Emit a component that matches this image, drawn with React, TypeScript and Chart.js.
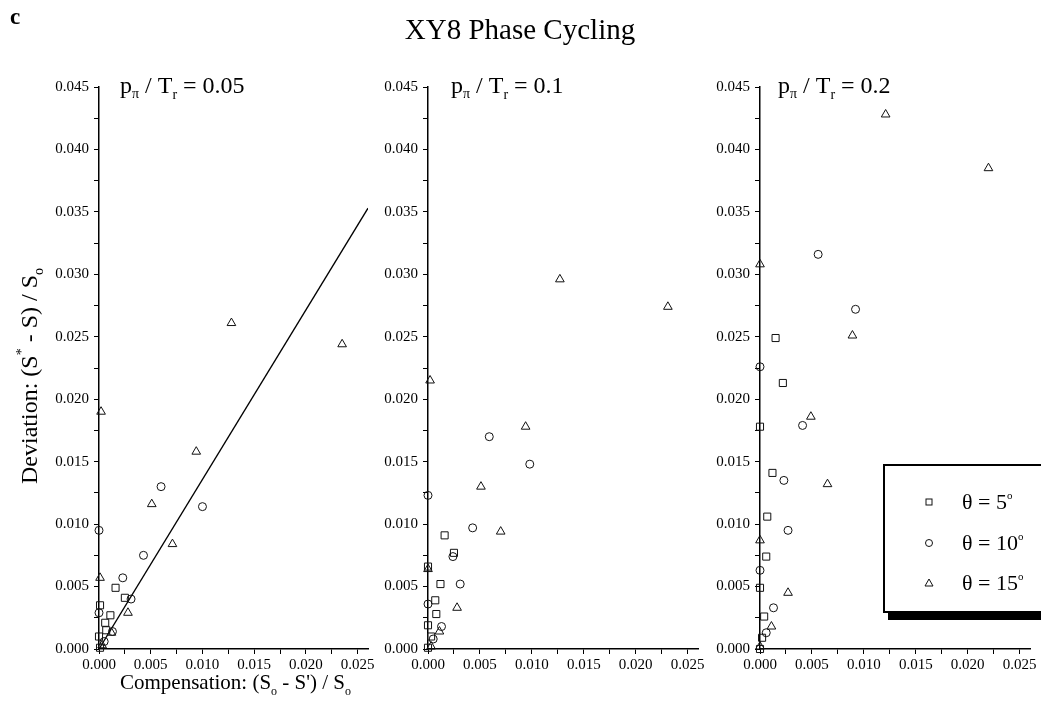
import React, { useEffect, useRef } from 'react';
import { Chart, registerables } from 'chart.js';
Chart.register(...registerables);

const FONT = '"Liberation Serif", "Times New Roman", serif';

// ---------- data (x = compensation, y = deviation) ----------
const p005Squares: number[][] = [
  [0.0016, 0.0049], [0.0025, 0.0041], [0.0001, 0.0035], [0.0011, 0.0027],
  [0.0006, 0.0021], [0.0007, 0.0015], [0.0, 0.0010], [0.0001, 0.0001],
];
const p005Circles: number[][] = [
  [0.0060, 0.0130], [0.0100, 0.0114], [0.0, 0.0095], [0.0043, 0.0075],
  [0.0023, 0.0057], [0.0031, 0.0040], [0.0, 0.0029], [0.0013, 0.0014], [0.0005, 0.0006],
];
const p005Triangles: number[][] = [
  [0.0128, 0.0261], [0.0235, 0.0244], [0.0002, 0.0190], [0.0094, 0.0158],
  [0.0051, 0.0116], [0.0071, 0.0084], [0.0001, 0.0057], [0.0028, 0.0029],
  [0.0012, 0.0013], [0.0003, 0.0003],
];

const p01Squares: number[][] = [
  [0.0016, 0.0091], [0.0025, 0.0077], [0.0, 0.0066], [0.0012, 0.0052],
  [0.0007, 0.0039], [0.0008, 0.0028], [0.0, 0.0019], [0.0003, 0.0010], [0.0, 0.0001],
];
const p01Circles: number[][] = [
  [0.0059, 0.0170], [0.0098, 0.0148], [0.0, 0.0123], [0.0043, 0.0097],
  [0.0024, 0.0074], [0.0031, 0.0052], [0.0, 0.0036], [0.0013, 0.0018], [0.0005, 0.0008],
];
const p01Triangles: number[][] = [
  [0.0127, 0.0296], [0.0231, 0.0274], [0.0002, 0.0215], [0.0094, 0.0178],
  [0.0051, 0.0130], [0.0070, 0.0094], [0.0, 0.0064], [0.0028, 0.0033],
  [0.0011, 0.0014], [0.0003, 0.0002],
];

const p02Squares: number[][] = [
  [0.0015, 0.0249], [0.0022, 0.0213], [0.0, 0.0178], [0.0012, 0.0141],
  [0.0007, 0.0106], [0.0006, 0.0074], [0.0, 0.0049], [0.0004, 0.0026],
  [0.0002, 0.0009], [0.0, 0.0],
];
const p02Circles: number[][] = [
  [0.0056, 0.0316], [0.0092, 0.0272], [0.0, 0.0226], [0.0041, 0.0179],
  [0.0023, 0.0135], [0.0027, 0.0095], [0.0, 0.0063], [0.0013, 0.0033], [0.0006, 0.0013],
];
const p02Triangles: number[][] = [
  [0.0121, 0.0428], [0.0220, 0.0385], [0.0, 0.0308], [0.0089, 0.0251],
  [0.0049, 0.0186], [0.0065, 0.0132], [0.0, 0.0087], [0.0027, 0.0045],
  [0.0011, 0.0018], [0.0, 0.0002],
];

// linear fit shown in the first panel
const fitLineX = [0, 0.026];
const fitLineY = [0, 0.0353];

// axis ticks
const xTicks = [0, 0.0025, 0.005, 0.0075, 0.01, 0.0125, 0.015, 0.0175, 0.02, 0.0225, 0.025];
const yTicks = [
  0, 0.0025, 0.005, 0.0075, 0.01, 0.0125, 0.015, 0.0175, 0.02, 0.0225, 0.025,
  0.0275, 0.03, 0.0325, 0.035, 0.0375, 0.04, 0.0425, 0.045,
];
const xMax = 0.026;
const yMax = 0.045;
const legendLabels = ['5', '10', '15'];
const panelRatios = ['0.05', '0.1', '0.2'];

// ---------- helpers ----------
type Part = { t: string; s: number; dy?: number; bold?: boolean };

function drawRich(
  ctx: CanvasRenderingContext2D,
  parts: Part[],
  x: number,
  y: number,
  align: 'left' | 'center',
  rot = 0
) {
  ctx.save();
  ctx.translate(x, y);
  if (rot) ctx.rotate(rot);
  ctx.fillStyle = '#000';
  ctx.textBaseline = 'alphabetic';
  ctx.textAlign = 'left';
  const widths = parts.map((p) => {
    ctx.font = `${p.bold ? 'bold ' : ''}${p.s}px ${FONT}`;
    return ctx.measureText(p.t).width;
  });
  const total = widths.reduce((a, b) => a + b, 0);
  let cx = align === 'center' ? -total / 2 : 0;
  parts.forEach((p, i) => {
    ctx.font = `${p.bold ? 'bold ' : ''}${p.s}px ${FONT}`;
    ctx.fillText(p.t, cx, p.dy || 0);
    cx += widths[i];
  });
  ctx.restore();
}

const isMajor = (v: number) => Math.abs(Math.round(v / 0.005) * 0.005 - v) < 1e-9;

type PanelSpec = {
  idx: number;
  squares: number[][];
  circles: number[][];
  triangles: number[][];
  fit: boolean;
  left: number;
  width: number;
  yAxisWidth: number;
  padRight: number;
  labelOffset: number;
};

const H = 724;

function Panel({ spec }: { spec: PanelSpec }) {
  const ref = useRef<HTMLCanvasElement | null>(null);
  useEffect(() => {
    const canvas = ref.current;
    if (!canvas) return;
    const toPts = (arr: number[][]) => arr.map(([x, y]) => ({ x, y }));
    const marker = (data: number[][], style: string, r: number, label: string) => ({
      label,
      data: toPts(data),
      pointStyle: style,
      pointRadius: r,
      pointBorderWidth: 1,
      borderColor: '#000',
      backgroundColor: 'rgba(0,0,0,0)',
      pointBackgroundColor: 'rgba(0,0,0,0)',
      pointBorderColor: '#111',
      showLine: false,
      clip: false as any,
    });
    const datasets: any[] = [
      marker(spec.squares, 'rect', 5, 'θ = 5°'),
      marker(spec.circles, 'circle', 4, 'θ = 10°'),
      marker(spec.triangles, 'triangle', 5, 'θ = 15°'),
    ];
    if (spec.fit) {
      datasets.push({
        label: 'fit',
        data: fitLineX.map((x, i) => ({ x, y: fitLineY[i] })),
        showLine: true,
        borderColor: '#000',
        borderWidth: 1.3,
        pointRadius: 0,
        fill: false,
      });
    }

    const textPlugin = {
      id: 'panelText' + spec.idx,
      afterDraw(chart: any) {
        const ctx: CanvasRenderingContext2D = chart.ctx;
        const ca = chart.chartArea;
        // panel label  p_pi / T_r = value
        drawRich(
          ctx,
          [
            { t: 'p', s: 24 },
            { t: 'π', s: 14, dy: 5 },
            { t: ' / T', s: 24 },
            { t: 'r', s: 14, dy: 6 },
            { t: ' = ' + panelRatios[spec.idx], s: 24 },
          ],
          ca.left + spec.labelOffset,
          ca.top + 6,
          'left'
        );
        if (spec.idx === 0) {
          drawRich(ctx, [{ t: 'c', s: 23, bold: true }], 10, 24, 'left');
          drawRich(
            ctx,
            [
              { t: 'Deviation: (S', s: 24 },
              { t: '*', s: 14, dy: -11 },
              { t: ' - S) / S', s: 24 },
              { t: 'o', s: 14, dy: 6 },
            ],
            37,
            376,
            'center',
            -Math.PI / 2
          );
          drawRich(
            ctx,
            [
              { t: 'Compensation: (S', s: 21 },
              { t: 'o', s: 12, dy: 6 },
              { t: " - S') / S", s: 21 },
              { t: 'o', s: 12, dy: 6 },
            ],
            120,
            689,
            'left'
          );
        }
        if (spec.idx === 1) {
          const absCenter = 520;
          drawRich(ctx, [{ t: 'XY8 Phase Cycling', s: 29 }], absCenter - spec.left, 39, 'center');
        }
        if (spec.idx === 2) {
          // legend box with drop shadow
          const lx = ca.left + 124;
          const ly = 465;
          const lw = 200;
          const lh = 147;
          ctx.save();
          ctx.fillStyle = '#000';
          ctx.fillRect(lx + 4, ly + lh, lw, 8);
          ctx.fillStyle = '#fff';
          ctx.fillRect(lx, ly, lw, lh);
          ctx.strokeStyle = '#000';
          ctx.lineWidth = 2;
          ctx.strokeRect(lx, ly, lw, lh);
          const mx = ca.left + 169;
          const rows = [502, 543, 583];
          ctx.lineWidth = 1;
          ctx.strokeStyle = '#111';
          // square
          ctx.strokeRect(mx - 3, rows[0] - 3, 6, 6);
          // circle
          ctx.beginPath();
          ctx.arc(mx, rows[1], 3.5, 0, Math.PI * 2);
          ctx.stroke();
          // triangle
          ctx.beginPath();
          ctx.moveTo(mx - 4, rows[2] + 3);
          ctx.lineTo(mx + 4, rows[2] + 3);
          ctx.lineTo(mx, rows[2] - 4);
          ctx.closePath();
          ctx.stroke();
          ctx.restore();
          legendLabels.forEach((l, i) => {
            drawRich(
              ctx,
              [
                { t: 'θ = ' + l, s: 22 },
                { t: 'o', s: 11, dy: -10 },
              ],
              ca.left + 202,
              rows[i] + 7,
              'left'
            );
          });
        }
      },
    };

    const tickFont = { family: FONT, size: 15 };
    const chart = new Chart(canvas, {
      type: 'scatter',
      data: { datasets },
      options: {
        responsive: false,
        animation: false,
        events: [],
        layout: { padding: { top: 87, bottom: 35, left: 0, right: spec.padRight } },
        plugins: { legend: { display: false }, tooltip: { enabled: false }, title: { display: false } },
        scales: {
          x: {
            type: 'linear',
            min: 0,
            max: xMax,
            afterBuildTicks: (s: any) => {
              s.ticks = xTicks.map((v) => ({ value: v }));
            },
            afterFit: (s: any) => {
              s.height = 40;
              s.paddingLeft = 0;
              s.paddingRight = 0;
            },
            grid: { drawOnChartArea: false, drawTicks: true, tickLength: 5, color: '#000', lineWidth: 1 },
            border: { display: true, color: '#000', width: 1.5 },
            ticks: {
              autoSkip: false,
              maxRotation: 0,
              minRotation: 0,
              padding: 2,
              color: '#000',
              font: tickFont,
              callback: (v: any) => (isMajor(Number(v)) ? Number(v).toFixed(3) : ''),
            },
          },
          y: {
            type: 'linear',
            min: 0,
            max: yMax,
            afterBuildTicks: (s: any) => {
              s.ticks = yTicks.map((v) => ({ value: v }));
            },
            afterFit: (s: any) => {
              s.width = spec.yAxisWidth;
              s.paddingTop = 0;
              s.paddingBottom = 0;
            },
            grid: { drawOnChartArea: false, drawTicks: true, tickLength: 5, color: '#000', lineWidth: 1 },
            border: { display: true, color: '#000', width: 1.5 },
            ticks: {
              autoSkip: false,
              padding: 5,
              color: '#000',
              font: tickFont,
              callback: (v: any) => (isMajor(Number(v)) ? Number(v).toFixed(3) : ''),
            },
          },
        },
      } as any,
      plugins: [textPlugin],
    });
    return () => chart.destroy();
  }, [spec]);

  return (
    <canvas
      ref={ref}
      width={spec.width}
      height={H}
      style={{ position: 'absolute', left: spec.left, top: 0, width: spec.width, height: H }}
    />
  );
}

const panels: PanelSpec[] = [
  { idx: 0, squares: p005Squares, circles: p005Circles, triangles: p005Triangles, fit: true, left: 0, width: 378, yAxisWidth: 99, padRight: 10, labelOffset: 21 },
  { idx: 1, squares: p01Squares, circles: p01Circles, triangles: p01Triangles, fit: false, left: 378, width: 330, yAxisWidth: 50, padRight: 10, labelOffset: 23 },
  { idx: 2, squares: p02Squares, circles: p02Circles, triangles: p02Triangles, fit: false, left: 708, width: 333, yAxisWidth: 52, padRight: 11, labelOffset: 18 },
];

export default function App() {
  return (
    <div style={{ position: 'absolute', left: 0, top: 0, width: 1041, height: H, background: '#fff', overflow: 'hidden' }}>
      {panels.map((p) => (
        <Panel key={p.idx} spec={p} />
      ))}
    </div>
  );
}
